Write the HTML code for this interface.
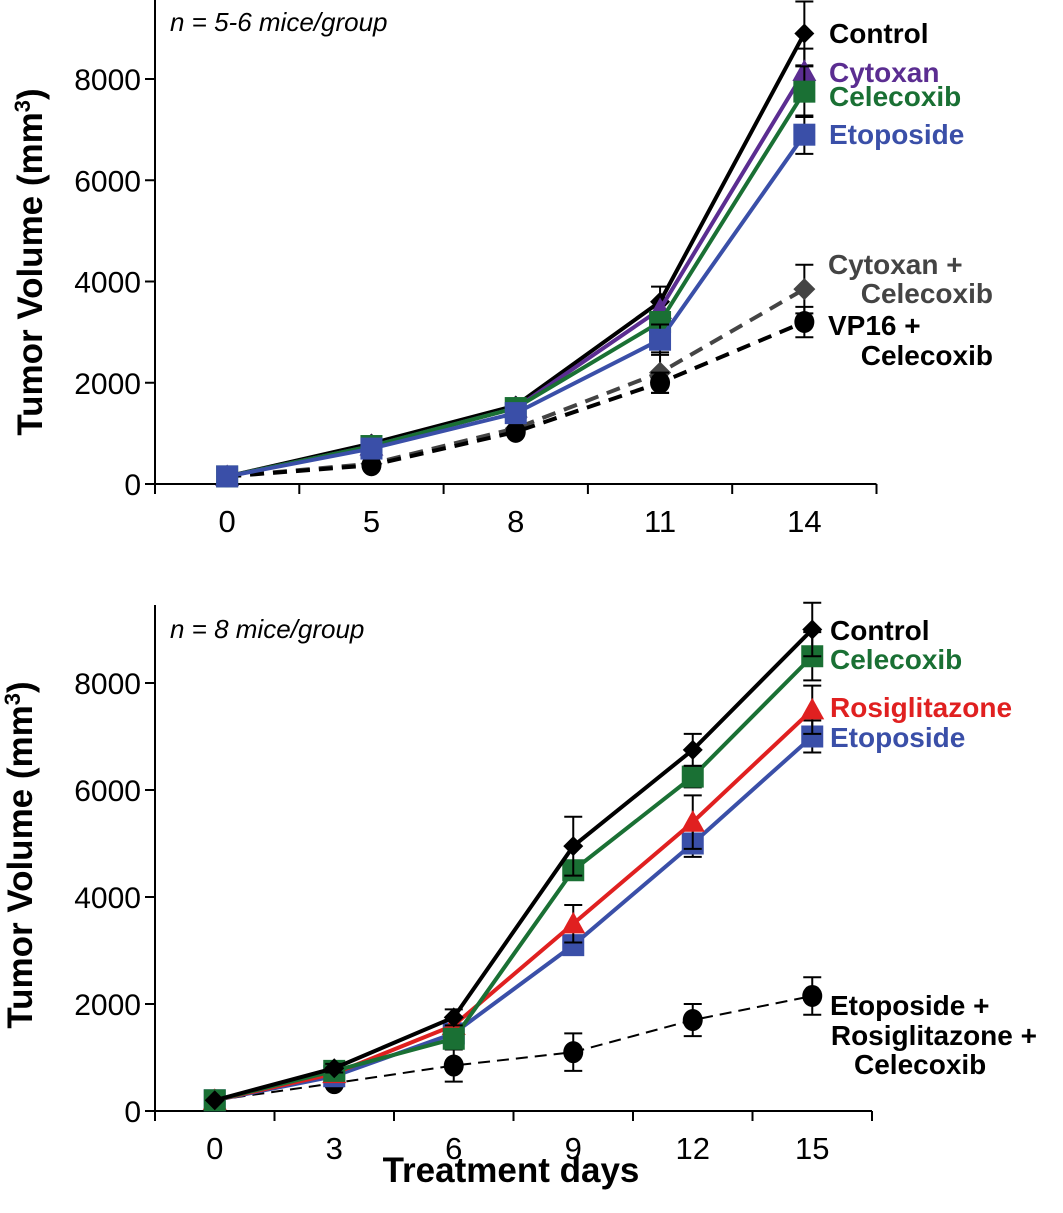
<!DOCTYPE html>
<html><head><meta charset="utf-8"><style>
body{margin:0;background:#fff;}
svg{display:block;font-family:"Liberation Sans",Arial,sans-serif;}
</style></head><body>
<svg id="chart" width="1063" height="1213" viewBox="0 0 1063 1213"></svg>
<script>
// ---- Top panel data ----
const topDays = ["0","5","8","11","14"];
const topControl = [150, 800, 1550, 3600, 8900];
const topControlErr = [0, 0, 120, 300, 630];
const topCytoxan = [150, 750, 1500, 3450, 8150];
const topCytoxanErr = [0, 0, 0, 0, 450];
const topCelecoxib = [150, 750, 1500, 3200, 7750];
const topCelecoxibErr = [0, 0, 0, 0, 500];
const topEtoposide = [150, 700, 1400, 2850, 6900];
const topEtoposideErr = [0, 0, 0, 300, 380];
const topCytCel = [150, 400, 1100, 2200, 3850];
const topCytCelErr = [0, 0, 0, 400, 480];
const topVP16Cel = [150, 370, 1030, 2000, 3200];
const topVP16CelErr = [0, 0, 0, 200, 300];
const topYTicks = [0, 2000, 4000, 6000, 8000];

// ---- Bottom panel data ----
const botDays = ["0","3","6","9","12","15"];
const botControl = [200, 800, 1750, 4950, 6750, 9000];
const botControlErr = [0, 80, 150, 550, 300, 500];
const botCelecoxib = [200, 750, 1350, 4500, 6250, 8500];
const botCelecoxibErr = [0, 0, 0, 0, 200, 450];
const botRosi = [200, 700, 1600, 3500, 5400, 7500];
const botRosiErr = [0, 0, 0, 350, 500, 450];
const botEtoposide = [200, 650, 1450, 3100, 5000, 7000];
const botEtoposideErr = [0, 0, 0, 0, 250, 300];
const botTriple = [200, 520, 850, 1100, 1700, 2150];
const botTripleErr = [0, 0, 300, 350, 300, 350];
const botYTicks = [0, 2000, 4000, 6000, 8000];

const NS = "http://www.w3.org/2000/svg";
const svg = document.getElementById("chart");
function mk(tag, attrs, parent, name){
  const e = document.createElementNS(NS, tag);
  for (const k in attrs) e.setAttribute(k, attrs[k]);
  
  
  (parent||svg).appendChild(e);
  return e;
}
function panel(cfg){
  const g = mk("g", {}, svg, cfg.name);
  const x = i => cfg.x0 + cfg.step*(i+0.5);
  const y = v => cfg.yZero - v*cfg.yScale;
  mk("line",{x1:cfg.x0,y1:cfg.yTop,x2:cfg.x0,y2:cfg.yZero,stroke:"#000","stroke-width":2},g,"y-axis-line");
  mk("line",{x1:cfg.x0,y1:cfg.yZero,x2:cfg.x0+cfg.step*cfg.cats.length,y2:cfg.yZero,stroke:"#000","stroke-width":2},g,"x-axis-line");
  for (let i=0;i<=cfg.cats.length;i++){
    mk("line",{x1:cfg.x0+cfg.step*i,y1:cfg.yZero,x2:cfg.x0+cfg.step*i,y2:cfg.yZero+10,stroke:"#000","stroke-width":2},g,"x-tick");
  }
  cfg.cats.forEach((c,i)=>{
    const t = mk("text",{x:x(i),y:cfg.yZero+48,"font-size":31,"text-anchor":"middle"},g,"x-tick-label");
    t.textContent = c;
  });
  cfg.yTicks.forEach(v=>{
    mk("line",{x1:cfg.x0-10,y1:y(v),x2:cfg.x0,y2:y(v),stroke:"#000","stroke-width":2},g,"y-tick");
    const t = mk("text",{x:cfg.x0-14,y:y(v)+11,"font-size":30,"text-anchor":"end"},g,"y-tick-label");
    t.textContent = v;
  });
  const yt = mk("text",{x:0,y:0,"font-size":35,"font-weight":"bold","text-anchor":"middle",transform:`translate(${cfg.titleX},${cfg.titleY}) rotate(-90)`},g,"y-axis-title");
  yt.innerHTML = 'Tumor Volume (mm<tspan font-size="22" dy="-12">3</tspan><tspan dy="12">)</tspan>';
  const ann = mk("text",{x:cfg.x0+15,y:cfg.annY,"font-size":26,"font-style":"italic"},g,"sample-size-note");
  ann.textContent = cfg.ann;
  cfg.series.forEach(s=>{
    const sg = mk("g",{},g,s.name);
    const pts = s.vals.map((v,i)=>x(i)+","+y(v)).join(" ");
    const la = {points:pts,fill:"none",stroke:s.color,"stroke-width":s.w||4};
    if (s.dash) la["stroke-dasharray"] = s.dash;
    mk("polyline",la,sg,s.name+"-line");
    s.vals.forEach((v,i)=>{
      const e = s.err[i];
      if (e>0){
        const cx=x(i);
        mk("line",{x1:cx,y1:y(v+e),x2:cx,y2:y(v-e),stroke:"#000","stroke-width":2},sg,"error-bar");
        mk("line",{x1:cx-9,y1:y(v+e),x2:cx+9,y2:y(v+e),stroke:"#000","stroke-width":2},sg,"error-cap");
        mk("line",{x1:cx-9,y1:y(v-e),x2:cx+9,y2:y(v-e),stroke:"#000","stroke-width":2},sg,"error-cap");
      }
    });
    s.vals.forEach((v,i)=>{
      const cx=x(i), cy=y(v), r=s.size||10;
      if (s.marker==="square") mk("rect",{x:cx-r,y:cy-r,width:2*r,height:2*r,fill:s.color},sg,"point");
      else if (s.marker==="circle") mk("ellipse",{cx:cx,cy:cy,rx:r-1,ry:r,fill:s.mcolor||s.color},sg,"point");
      else if (s.marker==="diamond") mk("polygon",{points:`${cx},${cy-r} ${cx+r},${cy} ${cx},${cy+r} ${cx-r},${cy}`,fill:s.mcolor||s.color},sg,"point");
      else if (s.marker==="triangle") mk("polygon",{points:`${cx},${cy-r} ${cx+r},${cy+r*0.8} ${cx-r},${cy+r*0.8}`,fill:s.color},sg,"point");
    });
  });
  cfg.legend.forEach(l=>{
    const t = mk("text",{x:l.x,y:l.y,"font-size":28,"font-weight":"bold",fill:l.color,"text-anchor":l.anchor||"start"},g,"legend-label");
    t.textContent = l.text;
  });
}
panel({name:"top-panel",x0:155,step:144.3,yZero:484,yTop:0,yScale:405/8000,cats:topDays,yTicks:topYTicks,
  titleX:42,titleY:262,ann:"n = 5-6 mice/group",annY:31,
  series:[
    {name:"cytoxan-celecoxib-series",vals:topCytCel,err:topCytCelErr,color:"#444",dash:"14,9",marker:"diamond",size:11},
    {name:"vp16-celecoxib-series",vals:topVP16Cel,err:topVP16CelErr,color:"#000",dash:"14,9",marker:"circle",size:11},
    {name:"control-series",vals:topControl,err:topControlErr,color:"#000",marker:"diamond",size:10},
    {name:"cytoxan-series",vals:topCytoxan,err:topCytoxanErr,color:"#5b2d91",marker:"triangle",size:12},
    {name:"celecoxib-series",vals:topCelecoxib,err:topCelecoxibErr,color:"#1a7034",marker:"square",size:11},
    {name:"etoposide-series",vals:topEtoposide,err:topEtoposideErr,color:"#3a4fa8",marker:"square",size:11}
  ],
  legend:[
    {text:"Control",x:829,y:43,color:"#000"},
    {text:"Cytoxan",x:829,y:82,color:"#5b2d91"},
    {text:"Celecoxib",x:829,y:106,color:"#1a7034"},
    {text:"Etoposide",x:829,y:144,color:"#3a4fa8"},
    {text:"Cytoxan +",x:828,y:274,color:"#444"},
    {text:"Celecoxib",x:993,y:303,color:"#444",anchor:"end"},
    {text:"VP16 +",x:828,y:335,color:"#000"},
    {text:"Celecoxib",x:993,y:365,color:"#000",anchor:"end"}
  ]});
panel({name:"bottom-panel",x0:155,step:119.5,yZero:1111,yTop:605,yScale:428/8000,cats:botDays,yTicks:botYTicks,
  titleX:32,titleY:855,ann:"n = 8 mice/group",annY:638,
  series:[
    {name:"triple-combination-series",vals:botTriple,err:botTripleErr,color:"#000",dash:"12,7",w:2,marker:"circle",size:11},
    {name:"etoposide-series",vals:botEtoposide,err:botEtoposideErr,color:"#3a4fa8",marker:"square",size:11},
    {name:"rosiglitazone-series",vals:botRosi,err:botRosiErr,color:"#e02020",marker:"triangle",size:12},
    {name:"celecoxib-series",vals:botCelecoxib,err:botCelecoxibErr,color:"#1a7034",marker:"square",size:11},
    {name:"control-series",vals:botControl,err:botControlErr,color:"#000",marker:"diamond",size:10}
  ],
  legend:[
    {text:"Control",x:830,y:640,color:"#000"},
    {text:"Celecoxib",x:830,y:669,color:"#1a7034"},
    {text:"Rosiglitazone",x:830,y:717,color:"#e02020"},
    {text:"Etoposide",x:830,y:747,color:"#3a4fa8"},
    {text:"Etoposide +",x:830,y:1015,color:"#000"},
    {text:"Rosiglitazone +",x:1037,y:1045,color:"#000",anchor:"end"},
    {text:"Celecoxib",x:854,y:1074,color:"#000"}
  ]});
const xt = mk("text",{x:511,y:1182,"font-size":35,"font-weight":"bold","text-anchor":"middle"},svg,"x-axis-title");
xt.textContent = "Treatment days";
</script>
</body></html>
